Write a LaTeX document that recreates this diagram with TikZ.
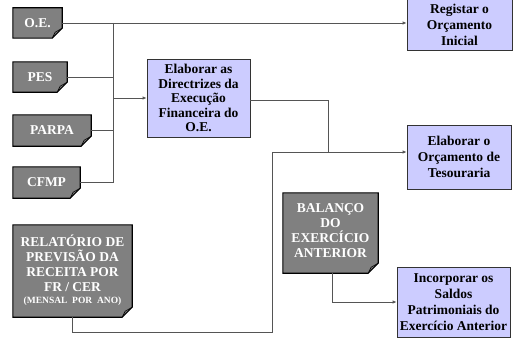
\documentclass[tikz,border=0pt]{standalone}
\usepackage{fontspec}
\setmainfont{Liberation Serif}
\usetikzlibrary{arrows.meta,calc}
\definecolor{docgray}{HTML}{808080}
\definecolor{procblue}{HTML}{CCCCFF}
\definecolor{linegray}{HTML}{555555}
\tikzset{
  doc/.style={minimum width=#1, inner sep=1pt, align=center, text=white,
    font=\fontsize{13.5}{15}\selectfont\bfseries},
  proc/.style={draw=black!80, line width=0.8pt, fill=procblue, align=center,
    inner sep=1pt, font=\fontsize{13.5}{16}\selectfont\bfseries},
  conn/.style={draw=linegray, line width=0.8pt},
  arr/.style={conn, -{Latex[length=4pt,width=3.5pt]}},
}
\newcommand{\docshape}[1]{%
  \fill[docgray] (#1.north west) -- (#1.north east) -- ($(#1.south east)+(0,-10)$)
     -- ($(#1.south east)+(-10,0)$) -- (#1.south west) -- cycle;
  \draw[black, line width=1.1pt, line join=miter] (#1.north west) -- (#1.north east) -- ($(#1.south east)+(0,-10)$)
     -- ($(#1.south east)+(-10,0)$) -- (#1.south west) -- cycle;
  \draw[black, line width=0.6pt] ($(#1.south east)+(0,-10)$) -- ($(#1.south east)+(-7,-6)$) -- ($(#1.south east)+(-10,0)$);
}
\begin{document}
\begin{tikzpicture}[x=1pt,y=-1pt]
\useasboundingbox (0,0) rectangle (532,337);
% documents
\node[doc=49pt, minimum height=30pt] (oe) at (37.5,23) {};
\node[doc=54pt, minimum height=30pt] (pes) at (40,77) {};
\node[doc=78pt, minimum height=31pt] (parpa) at (52,130.5) {};
\node[doc=67pt, minimum height=31pt] (cfmp) at (46.5,182.5) {};
\node[doc=119pt, minimum height=92pt] (rel) at (72.5,271) {};
\node[doc=95pt, minimum height=80pt] (bal) at (330.5,233) {};
\docshape{oe}
\docshape{pes}
\docshape{parpa}
\docshape{cfmp}
\docshape{rel}
\docshape{bal}
\node[doc=49pt, minimum height=30pt] at (oe.center) {O.E.};
\node[doc=54pt, minimum height=30pt] at (pes.center) {PES};
\node[doc=78pt, minimum height=31pt] at (parpa.center) {PARPA};
\node[doc=67pt, minimum height=31pt] at (cfmp.center) {CFMP};
\node[doc=119pt, minimum height=92pt] at ($(rel.center)+(0,-1)$) {RELATÓRIO DE\\PREVISÃO DA\\RECEITA POR\\FR / CER\\[-3pt]{\fontsize{9.5}{10}\selectfont (MENSAL\ \ POR\ \ ANO)}};
\node[doc=95pt, minimum height=80pt] at ($(bal.center)+(0,-2)$) {BALANÇO\\DO\\EXERCÍCIO\\ANTERIOR};
% processes
\node[proc, minimum width=103pt, minimum height=78pt] (dir) at (198.5,98) {Elaborar as\\[-1.5pt]Directrizes da\\[-1.5pt]Execução\\[-1.5pt]Financeira do\\[-1.5pt]O.E.};
\node[proc, minimum width=105pt, minimum height=51pt] (reg) at (459.5,25) {Registar o\\Orçamento\\Inicial};
\node[proc, minimum width=104pt, minimum height=64pt] (tes) at (459,157) {Elaborar o\\Orçamento de\\Tesouraria};
\node[proc, minimum width=113pt, minimum height=70pt] (inc) at (453.5,302) {Incorporar os\\Saldos\\Patrimoniais do\\Exercício Anterior};
% connectors
\coordinate (trtop) at (113,23);
\coordinate (trbot) at (113,182.5);
\coordinate (m1) at (328,100);
\coordinate (m2) at (328,152);
\coordinate (r1) at (72.5,332);
\coordinate (r2) at (272,332);
\coordinate (r3) at (272,152);
\coordinate (b1) at (332,302);
\draw[arr] (oe.east) -- (oe.east -| reg.west);
\draw[conn] (trtop) -- (trbot);
\draw[conn] (pes.east) -- (pes.east -| trtop);
\draw[conn] (parpa.east) -- (parpa.east -| trtop);
\draw[conn] (cfmp.east) -- (trbot);
\draw[arr] (dir.west -| trtop) -- (dir.west);
\draw[conn] (dir.east |- m1) -- (m1) -- (m2);
\draw[conn] (rel.south) -- (r1) -- (r2) -- (r3) -- (m2);
\draw[arr] (m2) -- (m2 -| tes.west);
\draw[arr] (bal.south -| b1) -- (b1) -- (inc.west);
\end{tikzpicture}
\end{document}
